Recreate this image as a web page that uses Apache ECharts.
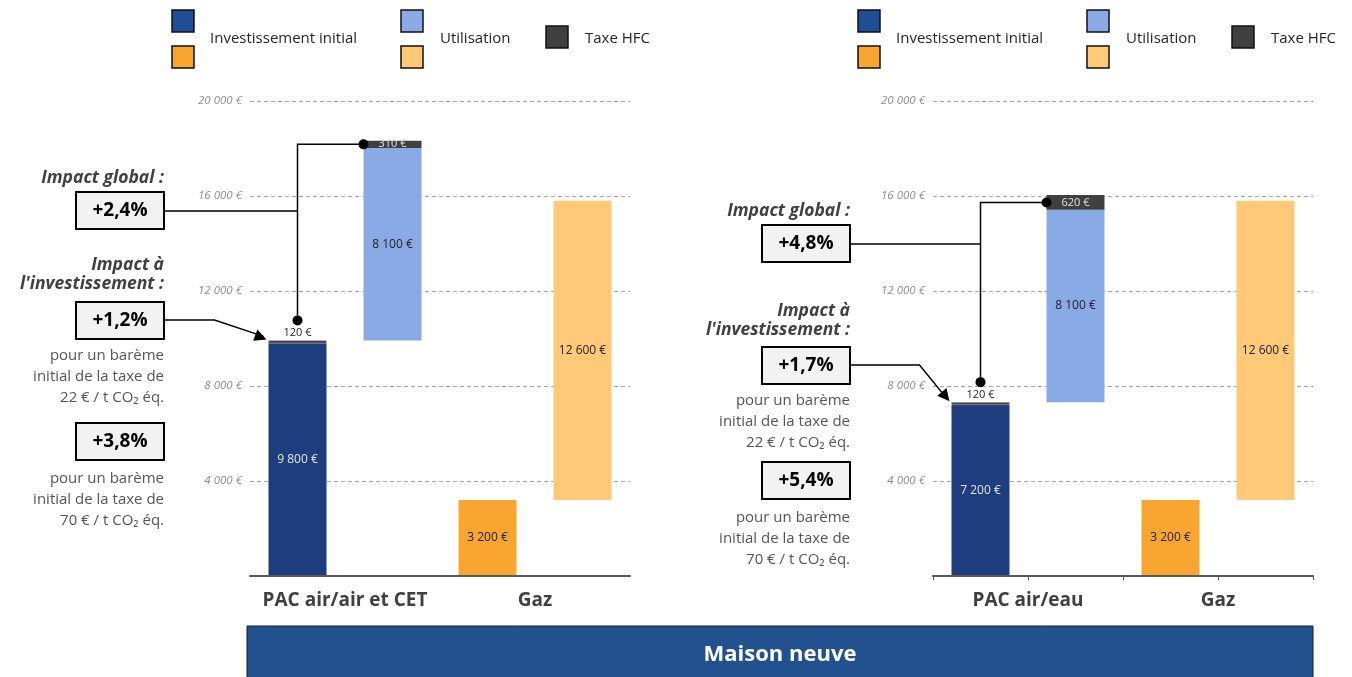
<!DOCTYPE html>
<html>
<head>
<meta charset="utf-8">
<script src="https://cdn.jsdelivr.net/npm/echarts@6/dist/echarts.min.js"></script>
<style>
html,body{margin:0;padding:0;background:#fff;}
#c{width:1352px;height:677px;}
</style>
</head>
<body>
<div id="c"></div>
<script>
// ---------- DATA ----------
const slots = ['inv1', 'use1', 'inv2', 'use2'];
const leftCategories = ['PAC air/air et CET', 'Gaz'];
const rightCategories = ['PAC air/eau', 'Gaz'];

const leftInvest = [9800, null, 3200, null];
const leftUse = [null, 8100, null, 12600];
const leftHfc = [120, 310, null, null];

const rightInvest = [7200, null, 3200, null];
const rightUse = [null, 8100, null, 12600];
const rightHfc = [120, 620, null, null];

const leftImpacts = ['+2,4%', '+1,2%', '+3,8%'];
const rightImpacts = ['+4,8%', '+1,7%', '+5,4%'];
const taxRates = ['22 € / t CO₂ éq.', '70 € / t CO₂ éq.'];

const yMin = 0, yMax = 20000, yInterval = 4000;
const bannerTitle = 'Maison neuve';
const legendNames = ['Investissement initial', 'Utilisation', 'Taxe HFC'];

// ---------- STYLE ----------
const FONT = '"Open Sans", "DejaVu Sans", sans-serif';
const C_INV_PAC = '#1E3D7F', C_INV_GAZ = '#F9A630';
const C_USE_PAC = '#8AAAE5', C_USE_GAZ = '#FFC977';
const C_HFC = '#404040';
const BAR_W = 58;

function fmt(v) {
  return String(v).replace(/\B(?=(\d{3})+(?!\d))/g, ' ') + ' €';
}

function buildSeries(invest, use, hfc, xi, yi) {
  const base = slots.map((s, i) => {
    if (use[i] == null) return 0;
    return (invest[i - 1] || 0) + (hfc[i - 1] || 0);
  });
  const invColors = [C_INV_PAC, null, C_INV_GAZ, null];
  const invLabelColors = ['#e6e6e6', null, '#222', null];
  const useColors = [null, C_USE_PAC, null, C_USE_GAZ];
  const common = { type: 'bar', stack: 's' + xi, xAxisIndex: xi, yAxisIndex: yi, barWidth: BAR_W, animation: false };
  const lab = (extra) => Object.assign({ show: true, fontSize: 12, fontFamily: FONT, formatter: p => fmt(p.value) }, extra);
  return [
    Object.assign({}, common, {
      name: 'base', data: base, itemStyle: { color: 'transparent' }, silent: true
    }),
    Object.assign({}, common, {
      name: legendNames[0],
      data: invest.map((v, i) => v == null ? null : {
        value: v, itemStyle: { color: invColors[i] },
        label: lab({ position: 'inside', color: invLabelColors[i] })
      })
    }),
    Object.assign({}, common, {
      name: legendNames[1],
      data: use.map((v, i) => v == null ? null : {
        value: v, itemStyle: { color: useColors[i] },
        label: lab({ position: 'inside', color: '#222' })
      })
    }),
    Object.assign({}, common, {
      name: legendNames[2],
      data: hfc.map((v, i) => v == null ? null : {
        value: v, itemStyle: { color: C_HFC, borderColor: '#8a8a8a', borderWidth: i === 0 ? 0.5 : 0 },
        label: i === 0
          ? lab({ position: 'top', distance: 2, color: '#222', fontSize: 11 })
          : lab({ position: 'inside', color: '#e0e0e0', fontSize: 11 })
      })
    })
  ];
}

function yAxisCfg(gi) {
  return {
    type: 'value', gridIndex: gi, min: yMin, max: yMax, interval: yInterval,
    axisLine: { show: false }, axisTick: { show: false },
    axisLabel: { margin: 8, color: '#8c8c8c', fontStyle: 'italic', fontSize: 11.5, fontFamily: FONT,
      formatter: v => v === 0 ? '' : fmt(v) },
    splitLine: { lineStyle: { color: '#a6a6a6', type: [4, 3], width: 1 } }
  };
}
function xAxisSlots(gi, ticks) {
  return {
    type: 'category', gridIndex: gi, data: slots,
    axisLine: { lineStyle: { color: '#595959', width: 2 } },
    axisTick: { show: ticks, length: 4, lineStyle: { color: '#595959' } },
    axisLabel: { show: false }, z: 5
  };
}
function xAxisCats(gi, cats) {
  return {
    type: 'category', gridIndex: gi, data: cats, position: 'bottom',
    axisLine: { show: false }, axisTick: { show: false }, splitLine: { show: false },
    axisLabel: { interval: 0, margin: 15, color: '#404040', fontWeight: 'bold', fontSize: 19, fontFamily: FONT,
      hideOverlap: false }
  };
}

const chart = echarts.init(document.getElementById('c'), null, { renderer: 'canvas' });
const option = {
  backgroundColor: '#fff',
  animation: false,
  grid: [
    { left: 250, top: 101, width: 380, height: 475 },
    { left: 933, top: 101, width: 380, height: 475 }
  ],
  xAxis: [xAxisSlots(0, false), xAxisCats(0, leftCategories), xAxisSlots(1, true), xAxisCats(1, rightCategories)],
  yAxis: [yAxisCfg(0), yAxisCfg(1)],
  series: [].concat(buildSeries(leftInvest, leftUse, leftHfc, 0, 0), buildSeries(rightInvest, rightUse, rightHfc, 2, 1))
};
chart.setOption(option);

// ---------- ANNOTATIONS ----------
const g = [];
function txt(x, y, s, style) {
  g.push({ type: 'text', x: x, y: y, z: 20, style: Object.assign({ text: s, fontFamily: FONT, verticalAlign: 'middle' }, style) });
}
function box(xr, yTop, s) {
  g.push({ type: 'rect', z: 20, shape: { x: xr - 88, y: yTop, width: 88, height: 37 }, style: { fill: '#f2f2f2', stroke: '#000', lineWidth: 2 } });
  txt(xr - 44, yTop + 19, s, { align: 'center', fontSize: 19, fontWeight: 'bold', fill: '#000' });
}
function line(pts, w) {
  g.push({ type: 'polyline', z: 20, shape: { points: pts }, style: { stroke: '#000', lineWidth: w || 1.5, fill: null } });
}
function dot(x, y) {
  g.push({ type: 'circle', z: 21, shape: { cx: x, cy: y, r: 5 }, style: { fill: '#000' } });
}
function arrowHead(x0, y0, x1, y1) {
  const a = Math.atan2(y1 - y0, x1 - x0), L = 12, W = 6;
  const bx = x1 - L * Math.cos(a), by = y1 - L * Math.sin(a);
  const px = -Math.sin(a) * W, py = Math.cos(a) * W;
  g.push({ type: 'polygon', z: 21, shape: { points: [[x1, y1], [bx + px, by + py], [bx - px, by - py]] }, style: { fill: '#000' } });
}
function legend(x0) {
  const sq = (x, y, c) => g.push({ type: 'rect', z: 20, shape: { x: x, y: y, width: 22, height: 22 }, style: { fill: c, stroke: '#111', lineWidth: 1.5 } });
  sq(x0, 10, '#1F4E96'); sq(x0, 46, C_INV_GAZ);
  txt(x0 + 38, 39, legendNames[0], { fontSize: 15, fill: '#262626' });
  sq(x0 + 229, 10, C_USE_PAC); sq(x0 + 229, 46, C_USE_GAZ);
  txt(x0 + 268, 39, legendNames[1], { fontSize: 15, fill: '#262626' });
  sq(x0 + 374, 26, C_HFC);
  txt(x0 + 413, 39, legendNames[2], { fontSize: 15, fill: '#262626' });
}

function panel(p) {
  const xi = p.xi, yi = p.yi;
  const px = (slot, val) => chart.convertToPixel({ xAxisIndex: xi, yAxisIndex: yi }, [slot, val]);
  const top0 = p.invest[0] + p.hfc[0];
  const top1 = top0 + p.use[1] + p.hfc[1];
  const A = px(1, top1 - p.hfc[1] / 2); A[0] -= BAR_W / 2;
  const c0 = px(0, top0);
  const B = [c0[0], c0[1] - 20];
  const xr = p.xr, t = p.tops;
  const head = { align: 'right', fontSize: 17.5, fontWeight: 'bold', fontStyle: 'italic', fill: '#404040' };
  txt(xr, t.h1, 'Impact global :', head);
  box(xr, t.b1, p.impacts[0]);
  txt(xr, t.h2, 'Impact à', head);
  txt(xr, t.h2 + 19, "l'investissement :", head);
  box(xr, t.b2, p.impacts[1]);
  const lines = (y0, rate) => {
    txt(xr, y0, 'pour un barème', { align: 'right', fontSize: 15, fill: '#555' });
    txt(xr, y0 + 21, 'initial de la taxe de', { align: 'right', fontSize: 15, fill: '#555' });
    txt(xr, y0 + 42, rate, { align: 'right', fontSize: 15, fill: '#555' });
  };
  lines(t.b2 + 54, taxRates[0]);
  box(xr, t.b3, p.impacts[2]);
  lines(t.b3 + 56, taxRates[1]);
  // global connector
  line([[B[0], B[1]], [B[0], A[1]], [A[0], A[1]]]);
  line([[xr, t.b1 + 19], [B[0], t.b1 + 19]]);
  dot(A[0], A[1]); dot(B[0], B[1]);
  // investment arrow
  const tgt = [c0[0] - BAR_W / 2 - 2, c0[1] - 1];
  const bend = [tgt[0] - p.bend, t.b2 + 18];
  line([[xr, t.b2 + 18], bend, [tgt[0] - 3, tgt[1] - 3]]);
  arrowHead(bend[0], bend[1], tgt[0], tgt[1]);
}

panel({ xi: 0, yi: 0, invest: leftInvest, use: leftUse, hfc: leftHfc, impacts: leftImpacts, xr: 164, bend: 52,
  tops: { h1: 178, b1: 192, h2: 265, b2: 302, b3: 423 } });
panel({ xi: 2, yi: 1, invest: rightInvest, use: rightUse, hfc: rightHfc, impacts: rightImpacts, xr: 850, bend: 30,
  tops: { h1: 211, b1: 225, h2: 311, b2: 347, b3: 462 } });

legend(172);
legend(858);

// banner
g.push({ type: 'rect', z: 20, shape: { x: 247, y: 626, width: 1066, height: 60 }, style: { fill: '#21528F', stroke: '#1a1a1a', lineWidth: 1 } });
txt(780, 655, bannerTitle, { align: 'center', fontSize: 22, fontWeight: 'bold', fill: '#fff' });

chart.setOption({ graphic: { elements: g } });
</script>
</body>
</html>
